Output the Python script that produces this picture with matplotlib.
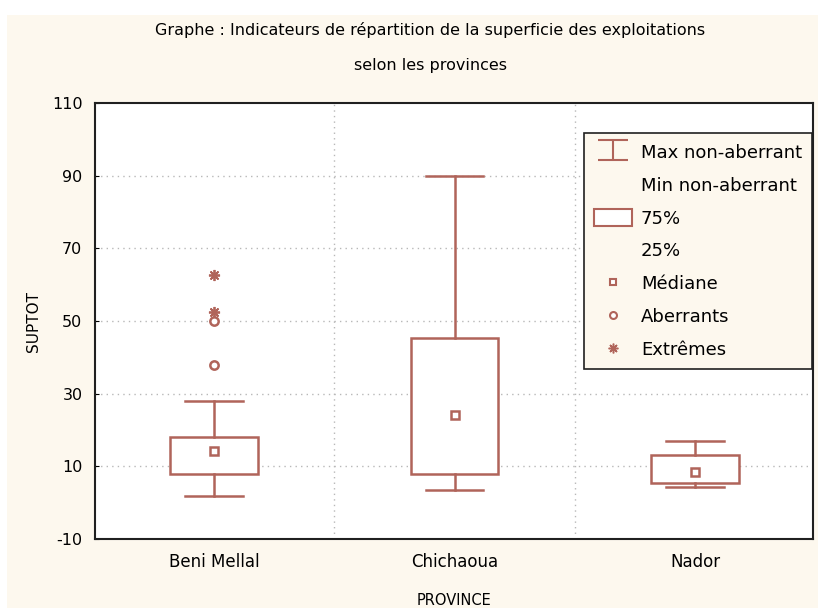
import matplotlib
matplotlib.use('Agg')
import matplotlib.pyplot as plt
from matplotlib.lines import Line2D
from matplotlib.patches import Rectangle
from matplotlib.path import Path
from matplotlib.ticker import FuncFormatter

provinces = ['Beni Mellal', 'Chichaoua', 'Nador']
q1 = [7.8, 7.8, 5.5]
q3 = [18.2, 45.3, 13.0]
med = [14.1, 24.2, 8.5]
wmin = [1.8, 3.4, 4.3]
wmax = [28.1, 90.0, 16.9]
# Beni Mellal only
aberr_x = ['Beni Mellal', 'Beni Mellal']
aberr_y = [37.9, 50.0]
extr_x = ['Beni Mellal', 'Beni Mellal']
extr_y = [52.5, 62.6]

col = '#b0645a'
cream = '#fdf8ee'
plt.rcParams['font.family'] = ['Liberation Sans Narrow', 'DejaVu Sans']

fig = plt.figure(figsize=(8.28, 6.1), dpi=100)
fig.patch.set_facecolor('white')
fig.patches.append(Rectangle((7/828, 2/610), 811/828, 593/610, transform=fig.transFigure,
                             facecolor=cream, edgecolor='none', zorder=-10))
ax = fig.add_axes([95/828, 71/610, 718/828, 436/610])
ax.set_facecolor('white')

pos = {p: i + 1 for i, p in enumerate(provinces)}
bw = 0.365
cw = 0.24
for i, p in enumerate(provinces):
    x = pos[p]
    ax.add_patch(Rectangle((x - bw / 2, q1[i]), bw, q3[i] - q1[i], facecolor='white',
                           edgecolor=col, lw=1.8, zorder=3))
    ax.plot([x, x], [q3[i], wmax[i]], color=col, lw=1.8, zorder=3)
    ax.plot([x, x], [wmin[i], q1[i]], color=col, lw=1.8, zorder=3)
    ax.plot([x - cw / 2, x + cw / 2], [wmax[i], wmax[i]], color=col, lw=1.8, zorder=3)
    ax.plot([x - cw / 2, x + cw / 2], [wmin[i], wmin[i]], color=col, lw=1.8, zorder=3)
ax.plot([pos[p] for p in provinces], med, 's', ms=6, mfc='white', mec=col, mew=1.8, zorder=4)
ax.plot([pos[p] for p in aberr_x], aberr_y, 'o', ms=6, mfc='white', mec=col, mew=1.8, zorder=4)
ax.plot([pos[p] for p in extr_x], extr_y, ls='none', marker=(8, 2, 0), ms=8, mec=col, mew=1.3, zorder=4)

ax.set_xlim(0.505, 3.49)
ax.set_ylim(-10, 110)
ax.set_yticks(range(-10, 111, 20))
ax.yaxis.set_major_formatter(FuncFormatter(lambda v, p: '%d' % v))
ax.set_xticks([1, 2, 3])
ax.set_xticklabels(provinces, fontsize=12, family=['DejaVu Sans'])
ax.tick_params(axis='x', length=0, pad=10)
ax.tick_params(axis='y', direction='in', length=3, labelsize=11.5, pad=9)
for y in range(10, 91, 20):
    ax.axhline(y, color='#b8b8b8', lw=1, ls=(0, (1, 3)), zorder=1)
for x in [1.5, 2.5]:
    ax.axvline(x, color='#b8b8b8', lw=1, ls=(0, (1, 3)), zorder=1)
for s in ax.spines.values():
    s.set_linewidth(1.5)
    s.set_color('#202020')

ax.set_ylabel('SUPTOT', fontsize=11, labelpad=8, family=['DejaVu Sans'])
ax.set_xlabel('PROVINCE', fontsize=10.5, labelpad=16, family=['DejaVu Sans'])
fig.text(0.52, 0.95, 'Graphe : Indicateurs de répartition de la superficie des exploitations',
         ha='center', va='center', fontsize=11.5)
fig.text(0.52, 0.893, 'selon les provinces', ha='center', va='center', fontsize=11.5)

ibar = Path([(-1.6, 1), (1.6, 1), (0, 1), (0, -1), (-1.6, -1), (1.6, -1)],
            [Path.MOVETO, Path.LINETO, Path.MOVETO, Path.LINETO, Path.MOVETO, Path.LINETO])
blank = Line2D([], [], ls='none')
handles = [
    Line2D([], [], ls='none', marker=ibar, ms=22, mec=col, mew=1.5),
    blank,
    Rectangle((0, 0), 1, 1, facecolor='white', edgecolor=col, lw=1.5),
    blank,
    Line2D([], [], ls='none', marker='s', ms=5, mfc='white', mec=col, mew=1.5),
    Line2D([], [], ls='none', marker='o', ms=5, mfc='white', mec=col, mew=1.5),
    Line2D([], [], ls='none', marker=(8, 2, 0), ms=7, mec=col, mew=1.1),
]
labels = ['Max non-aberrant', 'Min non-aberrant', '75%', '25%', 'Médiane', 'Aberrants', 'Extrêmes']
leg = fig.legend(handles, labels, loc='upper left', bbox_to_anchor=(584/828, 1 - 133/610),
                 frameon=True, fancybox=False, framealpha=1,
                 facecolor=cream, edgecolor='#202020', handlelength=2.1, handleheight=1.1,
                 handletextpad=0.5, labelspacing=0.78, borderpad=0.55, borderaxespad=0,
                 prop={'family': ['DejaVu Sans'], 'size': 13})
leg.get_frame().set_linewidth(1.2)
fig.savefig('out.png', dpi=100, facecolor=fig.get_facecolor())
